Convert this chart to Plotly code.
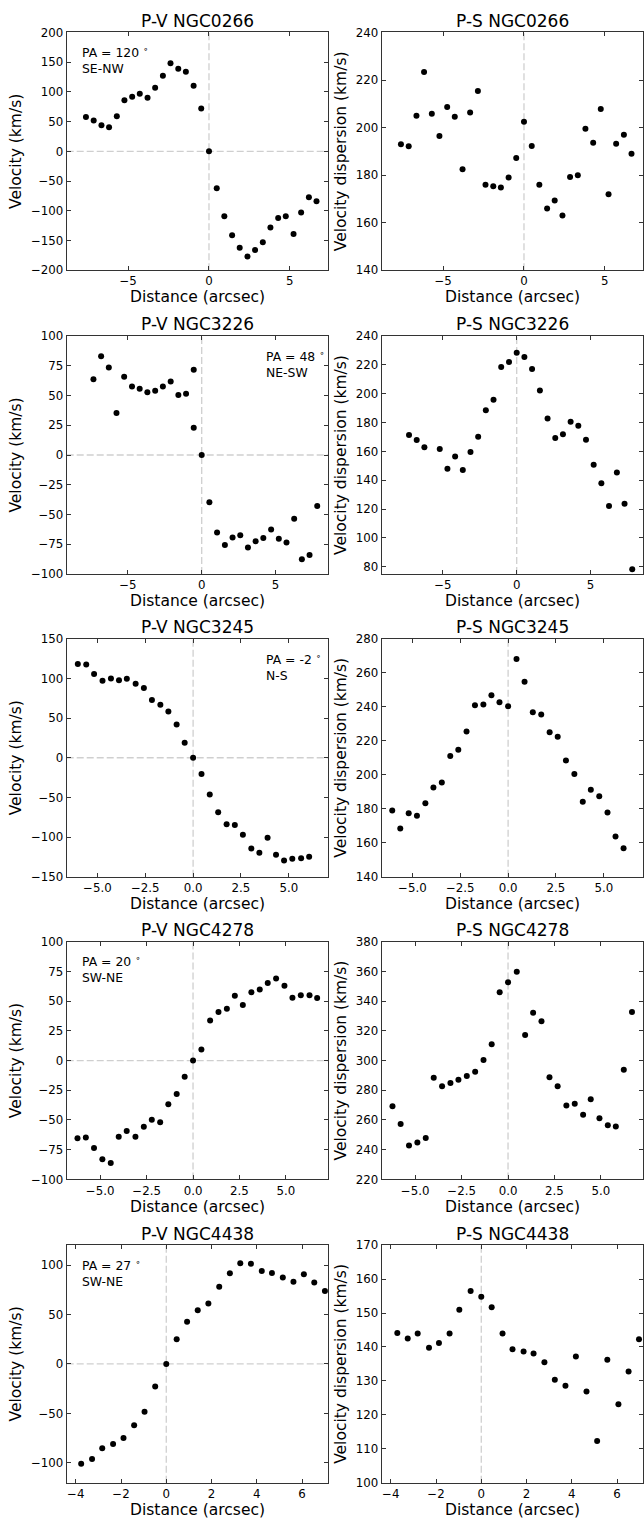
import plotly.graph_objects as go

# ---------------- data ----------------
# NGC0266
ngc0266_dist_v = [-7.61, -7.13, -6.65, -6.18, -5.70, -5.23, -4.75, -4.28, -3.80, -3.33, -2.85, -2.38,
                  -1.90, -1.43, -0.95, -0.48, 0.0, 0.48, 0.95, 1.43, 1.90, 2.38, 2.85, 3.33, 3.80,
                  4.28, 4.75, 5.23, 5.70, 6.18, 6.65]
ngc0266_vel = [58, 52, 44, 40.5, 59, 86, 92, 97, 90, 107, 127, 148, 139, 134, 110.5, 72, 0,
               -62, -109, -141, -162, -177, -166, -153, -128, -112, -109, -139, -103, -77, -84]
ngc0266_dist_s = ngc0266_dist_v
ngc0266_sigma = [193, 192.2, 205, 223.4, 205.8, 196.5, 208.7, 204.6, 182.5, 206.3, 215.4, 176,
                 175.3, 174.8, 179, 187.2, 202.5, 192.3, 176, 166, 169.3, 163, 179.2, 180, 199.5,
                 193.6, 207.8, 172, 193.2, 197, 189]

# NGC3226
ngc3226_dist_v = [-7.33, -6.81, -6.29, -5.77, -5.25, -4.72, -4.20, -3.68, -3.15, -2.63, -2.10, -1.58,
                  -1.06, -0.54, -0.54, 0.0, 0.52, 1.04, 1.57, 2.09, 2.61, 3.13, 3.65, 4.17, 4.70,
                  5.22, 5.74, 6.26, 6.78, 7.30, 7.82]
ngc3226_vel = [63.6, 83, 73.6, 35.3, 65.8, 57.5, 55.6, 52.8, 53.9, 57.5, 61.7, 50.3, 51.4, 71.7,
               22.8, 0, -39.7, -65, -75.6, -69.2, -67.5, -77.8, -72.5, -69.7, -62.5, -70.3, -73.6,
               -53.6, -87.5, -83.9, -42.8]
ngc3226_dist_s = [-7.29, -6.77, -6.25, -5.21, -4.69, -4.17, -3.65, -3.13, -2.61, -2.09, -1.57, -1.05,
                  -0.52, 0.0, 0.52, 1.04, 1.57, 2.09, 2.61, 3.13, 3.65, 4.17, 4.69, 5.21, 5.73,
                  6.25, 6.78, 7.30, 7.82]
ngc3226_sigma = [171.4, 167.9, 162.9, 161.7, 148, 156.5, 147.1, 159.5, 170.2, 188.5, 195.8, 218.5,
                 221.9, 228.3, 225.4, 217.1, 202.2, 182.8, 169.3, 171.8, 180.5, 177.8, 168.1,
                 150.8, 137.9, 122.1, 145.3, 123.8, 78.4]

# NGC3245
ngc3245_dist_v = [-6.02, -5.58, -5.17, -4.73, -4.29, -3.87, -3.46, -3.00, -2.57, -2.15, -1.71, -1.29,
                  -0.86, -0.44, 0.0, 0.44, 0.87, 1.31, 1.75, 2.18, 2.60, 3.04, 3.46, 3.89, 4.33,
                  4.75, 5.18, 5.64, 6.06]
ngc3245_vel = [118.3, 117.5, 105.8, 97, 100, 97.9, 99.6, 93.3, 87.9, 72.9, 67, 58.3, 42.1, 18.8, 0,
               -20.4, -46.3, -68.8, -83.8, -85, -97.1, -114.6, -120, -100.8, -122.5, -129.6,
               -127.5, -126.7, -125]
ngc3245_dist_s = [-6.05, -5.63, -5.19, -4.76, -4.32, -3.90, -3.46, -3.02, -2.60, -2.17, -1.73, -1.29,
                  -0.87, -0.45, 0.0, 0.44, 0.86, 1.29, 1.73, 2.17, 2.59, 3.02, 3.46, 3.90, 4.32,
                  4.76, 5.19, 5.61, 6.03]
ngc3245_sigma = [178.9, 168.4, 177.3, 175.8, 183.2, 192.5, 195.4, 211, 214.7, 225.4, 240.9, 241.3,
                 246.8, 242.7, 240.3, 268.1, 254.7, 236.8, 235.5, 225, 222.4, 208.4, 200.5, 184.1,
                 191.1, 187.3, 177.7, 163.7, 156.7]

# NGC4278
ngc4278_dist_v = [-6.22, -5.77, -5.33, -4.88, -4.43, -4.00, -3.57, -3.10, -2.65, -2.22, -1.77, -1.33,
                  -0.88, -0.45, 0.0, 0.45, 0.92, 1.37, 1.82, 2.25, 2.68, 3.14, 3.59, 4.02, 4.47,
                  4.92, 5.35, 5.80, 6.27, 6.68]
ngc4278_vel = [-65.3, -64.7, -73.6, -83.1, -86.1, -64.2, -59.2, -64.2, -55.6, -49.7, -51.9, -36.7,
               -28.1, -13.6, 0, 9.2, 33.6, 40.8, 43.6, 54.4, 46.7, 57.5, 59.7, 65.3, 68.9, 62.8,
               52.8, 55, 55, 52.5]
ngc4278_dist_s = [-6.22, -5.78, -5.33, -4.88, -4.43, -4.00, -3.55, -3.10, -2.67, -2.22, -1.77, -1.32,
                  -0.88, -0.45, 0.0, 0.47, 0.92, 1.35, 1.80, 2.23, 2.67, 3.14, 3.59, 4.04, 4.45,
                  4.92, 5.37, 5.80, 6.23, 6.67]
ngc4278_sigma = [269.3, 257.3, 242.9, 244.9, 247.8, 288.4, 282.7, 284.9, 287.1, 289.6, 292.4, 300.4,
                 310.9, 346, 352.7, 359.8, 317.1, 332.2, 326.4, 288.7, 282.7, 269.8, 270.9, 263.6,
                 274, 261.1, 256.4, 255.6, 293.8, 332.7]

# NGC4438
ngc4438_dist_v = [-3.76, -3.28, -2.83, -2.35, -1.89, -1.42, -0.96, -0.49, 0.0, 0.46, 0.92, 1.39,
                  1.86, 2.34, 2.81, 3.27, 3.74, 4.22, 4.67, 5.15, 5.62, 6.08, 6.54, 7.01]
ngc4438_vel = [-101, -96, -85.3, -81, -75, -62, -48.3, -22.7, 0, 25, 42.7, 54.3, 61, 78, 91.7,
               101.7, 101.3, 94, 92, 87.3, 83, 90.7, 82.3, 73.7]
ngc4438_dist_s = [-3.71, -3.25, -2.81, -2.31, -1.87, -1.40, -0.97, -0.47, 0.0, 0.46, 0.94, 1.38,
                  1.87, 2.31, 2.79, 3.25, 3.72, 4.18, 4.65, 5.12, 5.57, 6.06, 6.51, 6.97]
ngc4438_sigma = [144.1, 142.5, 144, 139.8, 141.2, 144, 151, 156.5, 154.8, 151.7, 144, 139.3, 138.7,
                 138.1, 135.5, 130.3, 128.6, 137.2, 126.9, 112.3, 136.2, 123.1, 132.8, 142.3]

galaxies = ["NGC0266", "NGC3226", "NGC3245", "NGC4278", "NGC4438"]
position_angles = ["PA = 120 <sup>∘</sup>", "PA = 48 <sup>∘</sup>", "PA = -2 <sup>∘</sup>",
                   "PA = 20 <sup>∘</sup>", "PA = 27 <sup>∘</sup>"]
orientations = ["SE-NW", "NE-SW", "N-S", "SW-NE", "SW-NE"]

pv_x = [ngc0266_dist_v, ngc3226_dist_v, ngc3245_dist_v, ngc4278_dist_v, ngc4438_dist_v]
pv_y = [ngc0266_vel, ngc3226_vel, ngc3245_vel, ngc4278_vel, ngc4438_vel]
ps_x = [ngc0266_dist_s, ngc3226_dist_s, ngc3245_dist_s, ngc4278_dist_s, ngc4438_dist_s]
ps_y = [ngc0266_sigma, ngc3226_sigma, ngc3245_sigma, ngc4278_sigma, ngc4438_sigma]

# ---------------- axes / styling ----------------
x_ranges = [[-8.8, 7.38], [-9.14, 8.57], [-6.6, 7.06], [-6.8, 7.28], [-4.4, 7.16]]
x_ticks = [[-5, 0, 5], [-5, 0, 5], [-5, -2.5, 0, 2.5, 5], [-5, -2.5, 0, 2.5, 5], [-4, -2, 0, 2, 4, 6]]
x_fmt = ["d", "d", ".1f", ".1f", "d"]
pv_yrange = [[-200, 200], [-100, 100], [-150, 150], [-100, 100], [-120, 120]]
pv_ytick = [50, 25, 50, 25, 50]
ps_yrange = [[140, 240], [75, 240], [140, 280], [220, 380], [100, 170]]
ps_ytick0 = [140, 80, 140, 220, 100]
ps_ytick = [20, 20, 20, 20, 10]
pa_left = [True, False, False, True, True]

W, H = 644, 1525
col_px = [(66.7, 328.3), (381.7, 643.3)]
row_px = [(25.7, 265.7), (332.0, 572.3), (637.7, 877.7), (943.3, 1183.3), (1249.7, 1489.3)]

FONT = "DejaVu Sans"
AX = "#333333"


def fx(px):
    return px / W


def fy(py):
    return 1 - py / H


fig = go.Figure()
layout = dict(
    width=W, height=H, margin=dict(l=0, r=0, t=0, b=0),
    paper_bgcolor="white", plot_bgcolor="white", showlegend=False,
    font=dict(family=FONT, color="black"),
)
annotations = []
shapes = []

idx = 0
for r in range(5):
    for c in range(2):
        idx += 1
        xa = "x" if idx == 1 else f"x{idx}"
        ya = "y" if idx == 1 else f"y{idx}"
        x0, x1 = col_px[c]
        y0, y1 = row_px[r]
        if c == 0:
            xs, ys = pv_x[r], pv_y[r]
            yr = pv_yrange[r]
            dt = pv_ytick[r]
            t0 = 0
            ytitle = "Velocity (km/s)"
            title = f"P-V {galaxies[r]}"
        else:
            xs, ys = ps_x[r], ps_y[r]
            yr = ps_yrange[r]
            dt = ps_ytick[r]
            t0 = ps_ytick0[r]
            ytitle = "Velocity dispersion (km/s)"
            title = f"P-S {galaxies[r]}"

        fig.add_trace(go.Scatter(
            x=xs, y=ys, mode="markers", xaxis=xa, yaxis=ya,
            marker=dict(size=6, color="black", line=dict(width=0)),
            cliponaxis=True, hoverinfo="x+y",
        ))

        common = dict(showgrid=False, zeroline=False, showline=True, linecolor=AX, linewidth=1,
                      mirror="ticks", ticks="inside", ticklen=4, tickwidth=1, tickcolor=AX,
                      tickfont=dict(family=FONT, size=11.8, color="black"))
        layout["xaxis" if idx == 1 else f"xaxis{idx}"] = dict(
            domain=[fx(x0), fx(x1)], anchor=ya, range=x_ranges[r],
            tickmode="array", tickvals=x_ticks[r], tickformat=x_fmt[r],
            title=dict(text="Distance (arcsec)", standoff=3,
                       font=dict(family=FONT, size=15.5, color="black")),
            **common)
        layout["yaxis" if idx == 1 else f"yaxis{idx}"] = dict(
            domain=[fy(y1), fy(y0)], anchor=xa, range=yr,
            tickmode="linear", tick0=t0, dtick=dt,
            title=dict(text=ytitle, standoff=5,
                       font=dict(family=FONT, size=15.5, color="black")),
            **common)

        # dashed reference lines
        shapes.append(dict(type="line", xref=xa, yref=f"{ya} domain", x0=0, x1=0, y0=0, y1=1,
                           line=dict(color="#cfcfcf", width=1.3, dash="7px,3px"), layer="below"))
        if c == 0:
            shapes.append(dict(type="line", xref=f"{xa} domain", yref=ya, x0=0, x1=1, y0=0, y1=0,
                               line=dict(color="#cfcfcf", width=1.3, dash="7px,3px"), layer="below"))

        # panel title
        annotations.append(dict(text=title, xref="paper", yref="paper",
                                x=fx((x0 + x1) / 2), y=fy(y0 - 11.8), xanchor="center",
                                yanchor="middle", showarrow=False,
                                font=dict(family=FONT, size=17, color="black")))
        # PA text
        if c == 0:
            tx = 80 if pa_left[r] else 264
            annotations.append(dict(text=position_angles[r], xref="paper", yref="paper",
                                    x=fx(tx), y=fy(y0 + 20), xanchor="left", yanchor="middle",
                                    showarrow=False,
                                    font=dict(family=FONT, size=12.4, color="black")))
            annotations.append(dict(text=orientations[r], xref="paper", yref="paper",
                                    x=fx(tx), y=fy(y0 + 36.5), xanchor="left", yanchor="middle",
                                    showarrow=False,
                                    font=dict(family=FONT, size=12.4, color="black")))

layout["annotations"] = annotations
layout["shapes"] = shapes
fig.update_layout(**layout)
fig.write_html(
    "out.html",
    config={"displayModeBar": False},
    post_script="document.documentElement.style.overflow='hidden';"
                "document.body.style.margin='0';document.body.style.padding='0';"
                "document.body.style.overflow='hidden';",
)
